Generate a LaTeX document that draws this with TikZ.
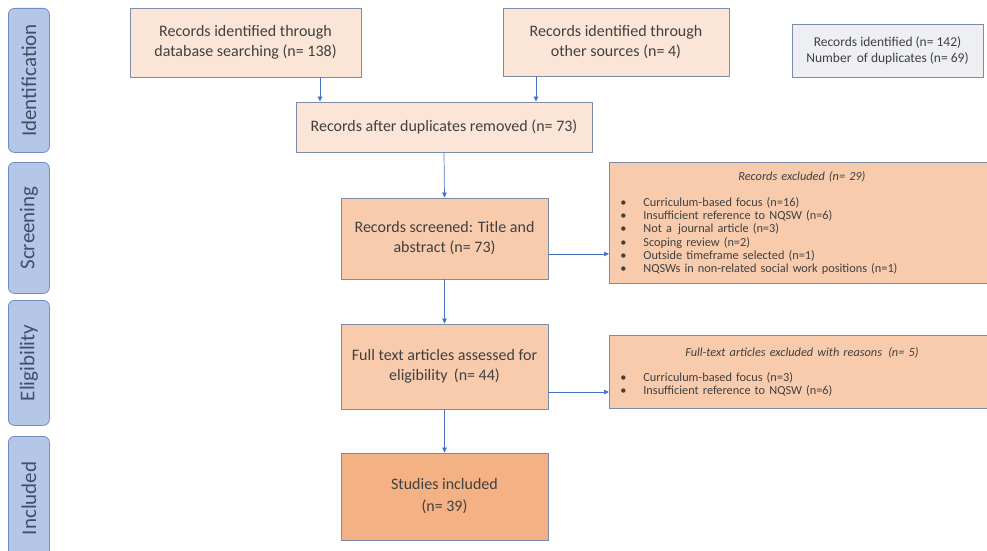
\documentclass[tikz,border=0pt]{standalone}
\usepackage{fontspec}
\setmainfont{Carlito}
\usetikzlibrary{arrows.meta}
\definecolor{tabfill}{HTML}{B4C7E7}
\definecolor{tabline}{HTML}{6F8DC4}
\definecolor{boxline}{HTML}{7D8CA8}
\definecolor{peachA}{HTML}{FBE5D6}
\definecolor{peachB}{HTML}{F8CBAD}
\definecolor{peachC}{HTML}{F4B183}
\definecolor{dupfill}{HTML}{EDEFF3}
\definecolor{arrblue}{HTML}{4472C4}
\definecolor{txt}{HTML}{404040}
\definecolor{tabtxt}{HTML}{3F4F66}
\newcommand{\bl}[1]{\par\makebox[23pt][l]{\textbullet}#1}
\begin{document}
\begin{tikzpicture}[x=1pt,y=-1pt,
  stage/.style={draw=tabline, fill=tabfill, rounded corners=6pt, line width=0.8pt,
    minimum width=41pt, inner sep=0pt, text=tabtxt, font=\fontsize{21}{24}\selectfont},
  box/.style={draw=boxline, line width=0.8pt, inner sep=0pt, align=center, text=txt,
    font=\fontsize{16}{20}\selectfont},
  listbox/.style={draw=boxline, fill=peachB, line width=0.8pt, inner xsep=11pt, inner ysep=0pt,
    anchor=north west, text=txt, font=\fontsize{12.3}{13.3}\selectfont},
  arr/.style={draw=arrblue, line width=0.7pt, -{Triangle[length=5pt,width=4.5pt]}}]
\useasboundingbox (0,0) rectangle (987,551);
% stages
\node[stage, minimum height=144pt, anchor=north west] (id) at (8,8) {\rotatebox{90}{Identification}};
\node[stage, minimum height=131pt, anchor=north west] (scr) at (8,162) {\rotatebox{90}{Screening}};
\node[stage, minimum height=125pt, anchor=north west] (eli) at (8,300) {\rotatebox{90}{Eligibility}};
\node[stage, minimum height=124pt, anchor=north west] (inc) at (8,436) {\rotatebox{90}{Included}};
% boxes
\node[box, fill=peachA, minimum width=231pt, minimum height=69pt] (db) at (245.5,42.5) {Records identified through\\database searching (n= 138)};
\node[box, fill=peachA, minimum width=226pt, minimum height=68pt] (other) at (616,42) {Records identified through\\other sources (n= 4)};
\node[box, fill=dupfill, minimum width=191pt, minimum height=53pt, font=\fontsize{13.5}{16}\selectfont] (dup) at (887.5,50.5) {Records identified (n= 142)\\Number\, of duplicates (n= 69)};
\node[box, fill=peachA, minimum width=296pt, minimum height=50pt] (nodup) at (444,127) {Records after duplicates removed (n= 73)};
\node[box, fill=peachB, minimum width=207pt, minimum height=81pt] (screened) at (444.5,238.5) {Records screened: Title and\\abstract (n= 73)};
\node[box, fill=peachB, minimum width=207pt, minimum height=85pt] (full) at (444.5,366.5) {Full text articles assessed for\\eligibility\, (n= 44)};
\node[box, fill=peachC, minimum width=207pt, minimum height=87pt, font=\fontsize{16}{22}\selectfont] (incl) at (444.5,496.5) {Studies included\\(n= 39)};
% exclusions
\node[listbox, minimum width=385pt, minimum height=121pt, text width=363pt] (excl) at (609,162) {%
  \centering\textit{Records excluded (n= 29)}\par\vspace{12.7pt}\raggedright
  \makebox[23pt][l]{\textbullet}Curriculum-based focus (n=16)
  \bl{Insufficient reference to NQSW (n=6)}
  \bl{Not a\, journal article (n=3)}
  \bl{Scoping review (n=2)}
  \bl{Outside timeframe selected (n=1)}
  \bl{NQSWs in non-related social work positions (n=1)}};
\node[listbox, minimum width=385pt, minimum height=73pt, text width=363pt] (exclfull) at (609,335) {%
  \centering\textit{Full-text articles excluded with reasons\, (n= 5)}\par\vspace{11.7pt}\raggedright
  \makebox[23pt][l]{\textbullet}Curriculum-based focus (n=3)
  \bl{Insufficient reference to NQSW (n=6)}};
% arrows
\draw[arr] (db.south -| 320,0) -- (nodup.north -| 320,0);
\draw[arr] (other.south -| 536,0) -- (nodup.north -| 536,0);
\draw[arr] (nodup.south) -- (screened.north);
\draw[arr] (screened.east |- 0,254) -- (excl.west |- 0,254);
\draw[arr] (screened.south) -- (full.north);
\draw[arr] (full.east |- 0,392) -- (exclfull.west |- 0,392);
\draw[arr] (full.south) -- (incl.north);
\end{tikzpicture}
\end{document}
